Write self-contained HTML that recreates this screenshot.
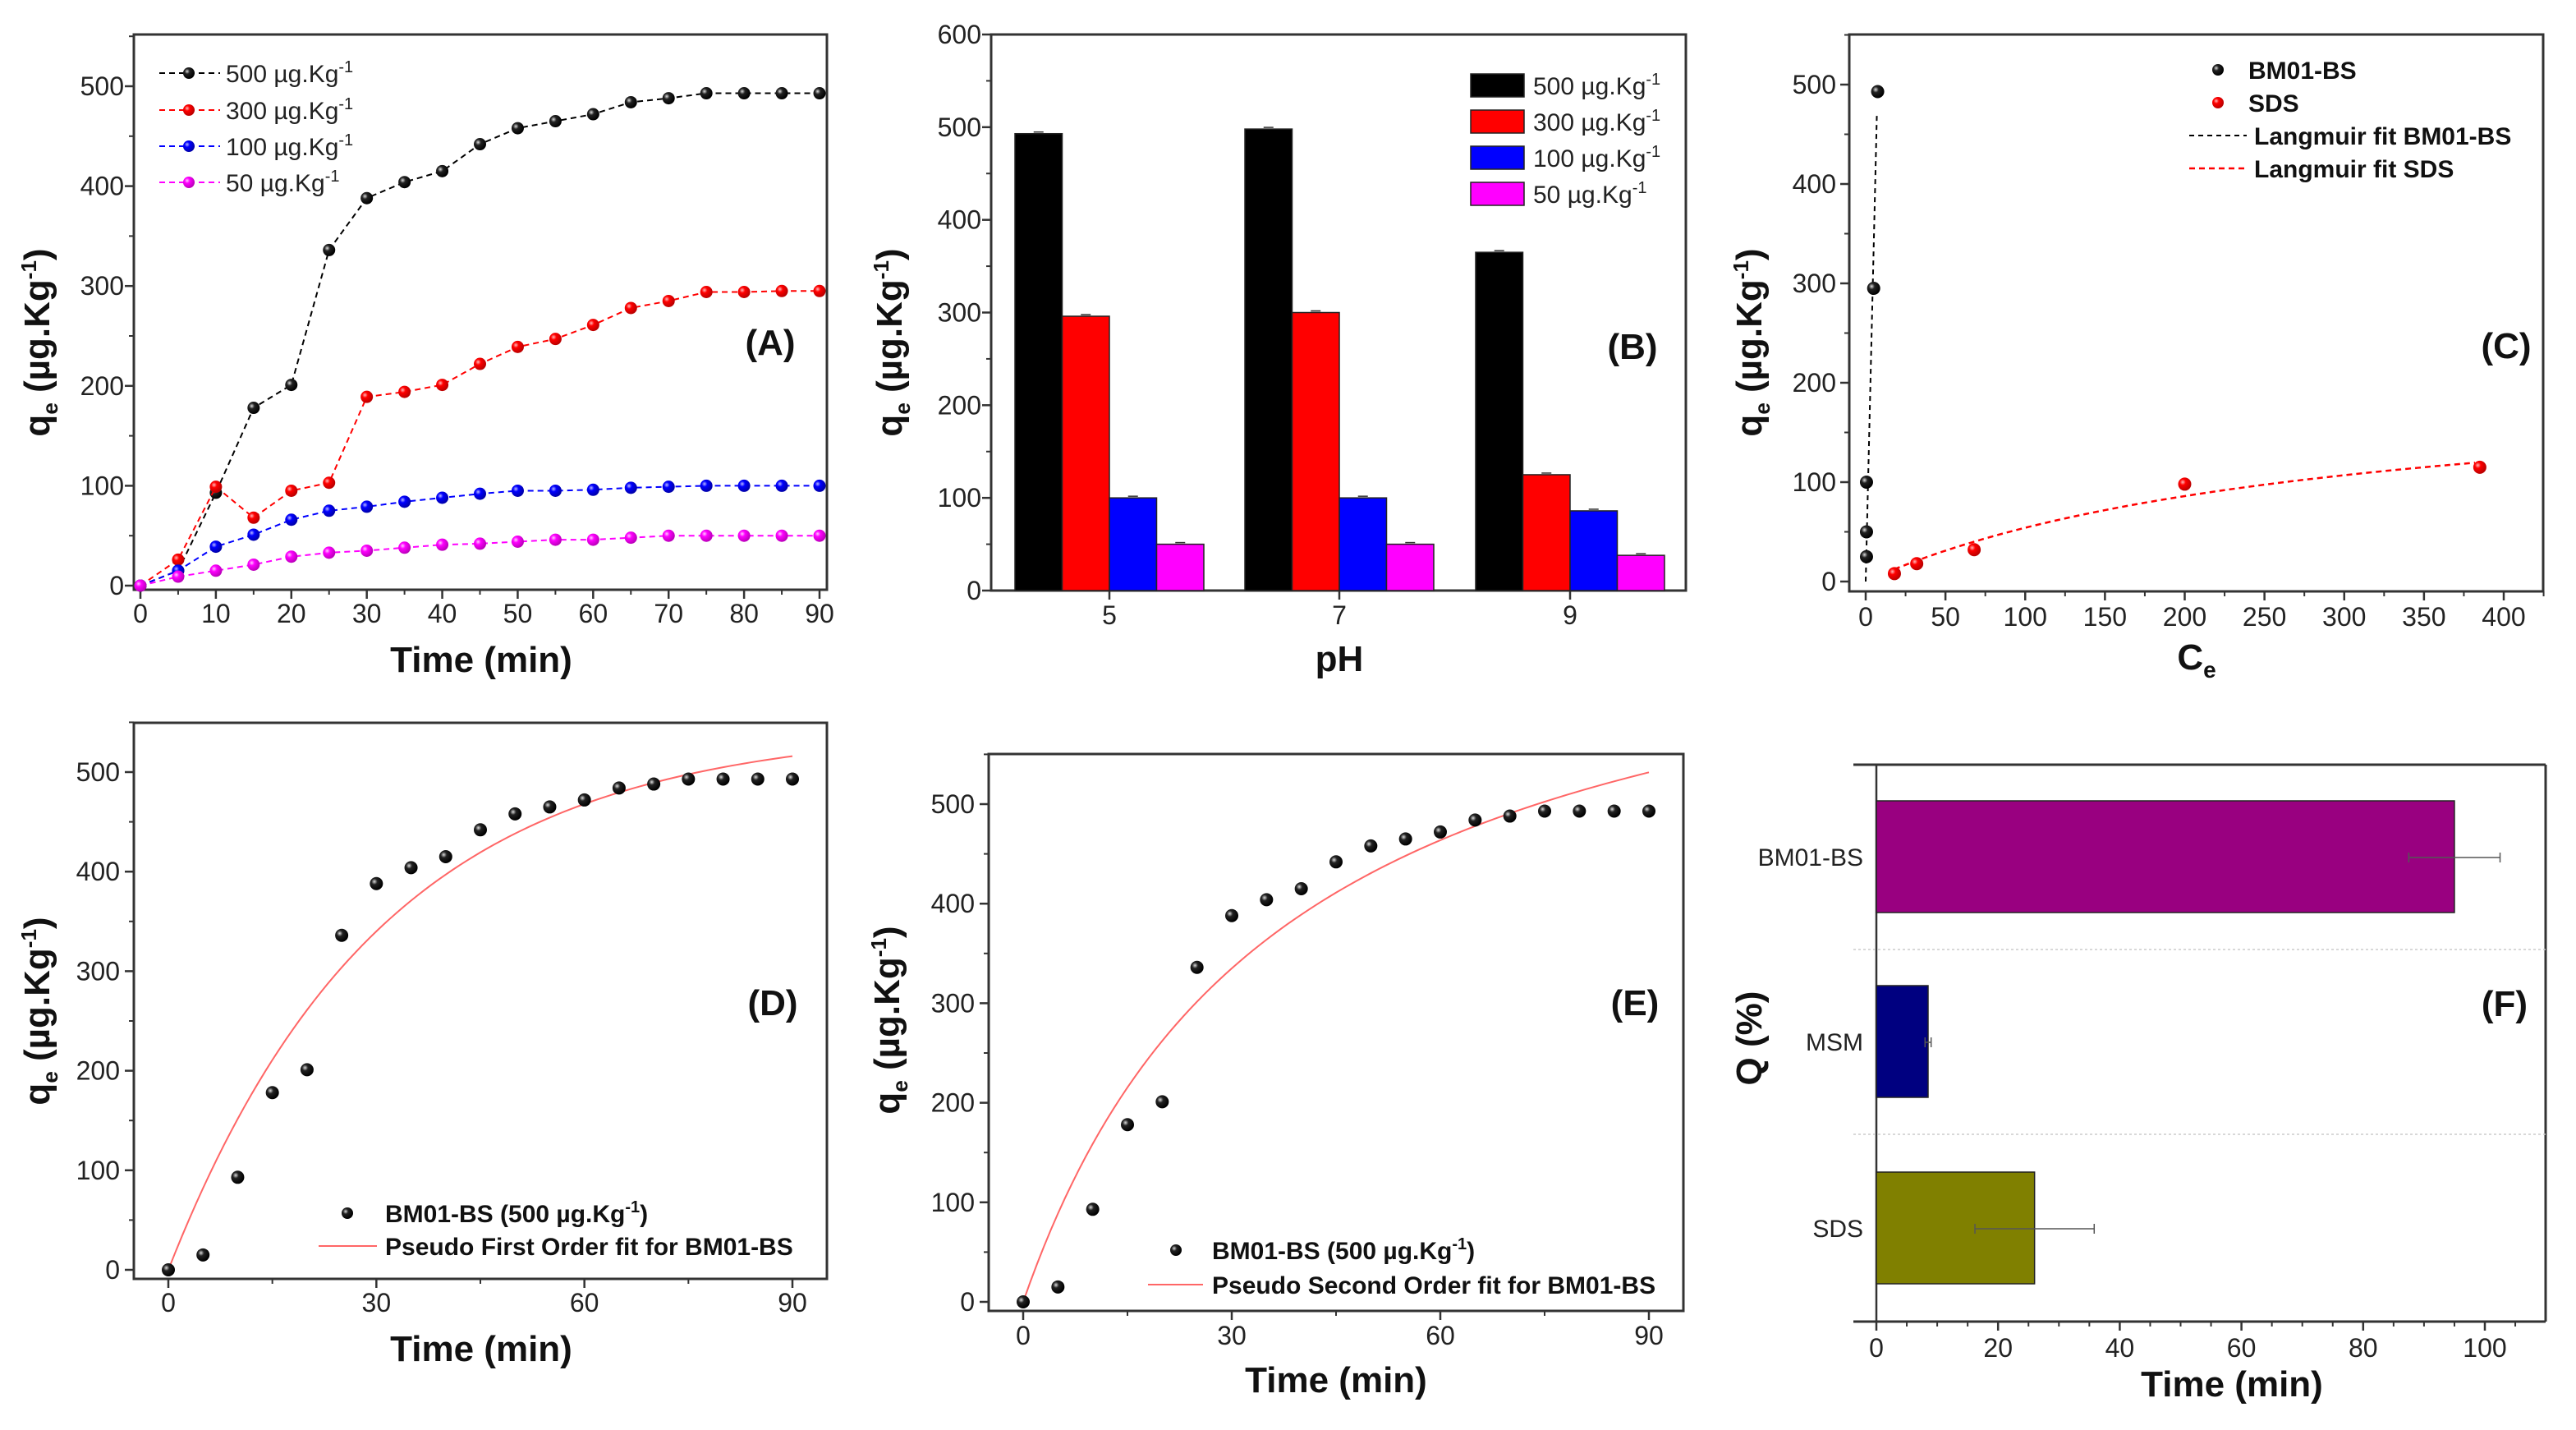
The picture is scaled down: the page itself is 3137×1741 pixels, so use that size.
<!DOCTYPE html>
<html><head><meta charset="utf-8"><style>
html,body{margin:0;padding:0;background:#fff;}
svg{display:block;font-family:"Liberation Sans",Arial,sans-serif;}
</style></head><body>
<svg id="fig" width="3137" height="1741" viewBox="0 0 3137 1741" xmlns="http://www.w3.org/2000/svg">
<defs>
<radialGradient id="gBlack" cx="35%" cy="35%" r="65%"><stop offset="0" stop-color="#ddd"/><stop offset="0.35" stop-color="#222"/><stop offset="1" stop-color="#000"/></radialGradient>
<radialGradient id="gRed" cx="35%" cy="35%" r="65%"><stop offset="0" stop-color="#fbb"/><stop offset="0.35" stop-color="#f00"/><stop offset="1" stop-color="#b00"/></radialGradient>
<radialGradient id="gBlue" cx="35%" cy="35%" r="65%"><stop offset="0" stop-color="#bbf"/><stop offset="0.35" stop-color="#00f"/><stop offset="1" stop-color="#00a"/></radialGradient>
<radialGradient id="gMag" cx="35%" cy="35%" r="65%"><stop offset="0" stop-color="#fcf"/><stop offset="0.35" stop-color="#f0f"/><stop offset="1" stop-color="#b0b"/></radialGradient>
</defs>
</svg>
<script>
// ---------- DATA ----------
const timesA = [0,5,10,15,20,25,30,35,40,45,50,55,60,65,70,75,80,85,90];
const qA500 = [0,15,93,178,201,336,388,404,415,442,458,465,472,484,488,493,493,493,493];
const qA300 = [0,26,99,68,95,103,189,194,201,222,239,247,261,278,285,294,294,295,295];
const qA100 = [0,15,39,51,66,75,79,84,88,92,95,95,96,98,99,100,100,100,100];
const qA50 = [0,9,15,21,29,33,35,38,41,42,44,46,46,48,50,50,50,50,50];
const seriesLabelsA = ["500","300","100","50"];

const phCats = ["5","7","9"];
const phB500 = [493,498,365];
const phB300 = [296,300,125];
const phB100 = [100,100,86];
const phB50 = [50,50,38];

const ceBM = [0.5,0.5,0.5,5,7.5];
const qeBM = [25,50,100,295,493];
const ceSDS = [18,32,68,200,385];
const qeSDS = [8,18,32,98,115];
const fitBMce = [0,7];
const fitBMq = [0,470];
const langQm = 209.3, langK = 0.003485;

const pfoQe = 545, pfoK = 0.0326;
const psoA = 0.04973, psoB = 0.0013275;

const fCats = ["BM01-BS","MSM","SDS"];
const fVals = [95,8.5,26];
const fErr = [7.5,0.5,9.8];
const fColors = ["#990080","#000080","#808000"];

// ---------- HELPERS ----------
const NS='http://www.w3.org/2000/svg';
const svg=document.getElementById('fig');
function el(tag, attrs, parent){const e=document.createElementNS(NS,tag);for(const k in attrs)e.setAttribute(k,attrs[k]);(parent||svg).appendChild(e);return e;}
function lin(d0,d1,r0,r1){return v=>r0+(v-d0)*(r1-r0)/(d1-d0);}
function frame(g,L,T,R,B){
  const r=el('rect',{x:L,y:T,width:R-L,height:B-T,fill:'none',stroke:'#333','stroke-width':3},g);
  
  
}
function xTicks(g,sx,vals,minor,B,labY,fmt){
  vals.forEach(v=>{
    el('line',{x1:sx(v),x2:sx(v),y1:B,y2:B+11,stroke:'#333','stroke-width':2.5},g);
    const t=el('text',{x:sx(v),y:labY,'font-size':32,'text-anchor':'middle',fill:'#222'},g);
    t.textContent=fmt?fmt(v):v;
    
    
  });
  (minor||[]).forEach(v=>el('line',{x1:sx(v),x2:sx(v),y1:B,y2:B+6,stroke:'#333','stroke-width':2},g));
}
function yTicks(g,sy,vals,minor,L,labX){
  vals.forEach(v=>{
    el('line',{x1:L-11,x2:L,y1:sy(v),y2:sy(v),stroke:'#333','stroke-width':2.5},g);
    const t=el('text',{x:labX,y:sy(v)+11,'font-size':32,'text-anchor':'end',fill:'#222'},g);
    t.textContent=v;
    
    
  });
  (minor||[]).forEach(v=>el('line',{x1:L-6,x2:L,y1:sy(v),y2:sy(v),stroke:'#333','stroke-width':2},g));
}
function yTitle(g,cx,cy){
  const t=el('text',{x:cx,y:cy,'font-size':44,'font-weight':'bold','text-anchor':'middle',fill:'#111',transform:`rotate(-90 ${cx} ${cy})`},g);
  
  
  t.innerHTML='q<tspan font-size="26" dy="10">e</tspan><tspan dy="-10"> (µg.Kg</tspan><tspan font-size="26" dy="-16">-1</tspan><tspan dy="16">)</tspan>';
}
function xTitle(g,cx,y,txt){
  const t=el('text',{x:cx,y:y,'font-size':44,'font-weight':'bold','text-anchor':'middle',fill:'#111'},g);
  
  
  t.innerHTML=txt;
}
function panelLabel(g,x,y,txt){
  const t=el('text',{x:x,y:y,'font-size':44,'font-weight':'bold','text-anchor':'middle',fill:'#111'},g);
  
  
  t.textContent=txt;
}
function dot(g,x,y,grad,r){
  const c=el('circle',{cx:x,cy:y,r:r||8,fill:'url(#'+grad+')'},g);
  
  
  return c;
}
function range(a,b,s){const o=[];for(let v=a;v<=b+1e-9;v+=s)o.push(+v.toFixed(4));return o;}
const ug=(n)=>`${n} µg.Kg<tspan font-size="20" dy="-12">-1</tspan>`;

// ---------- PANEL A ----------
(function(){
  const g=el('g',{});  
  const sx=lin(0,90,171,998), sy=lin(0,500,713,105);
  frame(g,163,42,1007,718);
  xTicks(g,sx,range(0,90,10),range(5,85,10),718,758);
  yTicks(g,sy,range(0,500,100),range(50,550,100),163,151);
  const series=[qA500,qA300,qA100,qA50], cols=['#000','#f00','#00f','#f0f'], grads=['gBlack','gRed','gBlue','gMag'];
  series.forEach((s,i)=>{
    const p=el('polyline',{points:timesA.map((t,j)=>sx(t)+','+sy(s[j])).join(' '),fill:'none',stroke:cols[i],'stroke-width':2,'stroke-dasharray':'7,5'},g);
    
    
    timesA.forEach((t,j)=>dot(g,sx(t),sy(s[j]),grads[i],7.5));
  });
  const rows=[89,134,178,222];
  rows.forEach((y,i)=>{
    el('line',{x1:194,x2:268,y1:y,y2:y,stroke:cols[i],'stroke-width':2,'stroke-dasharray':'7,5'},g);
    dot(g,230,y,grads[i],7);
    const t=el('text',{x:275,y:y+11,'font-size':30,fill:'#222'},g);
    
    
    t.innerHTML=ug(seriesLabelsA[i]);
  });
  yTitle(g,60,417);
  xTitle(g,586,818,'Time (min)');
  panelLabel(g,938,432,'(A)');
})();

// ---------- PANEL B ----------
(function(){
  const g=el('g',{});  
  const catX=[1351,1631,1912];
  const sy=lin(0,600,719,42);
  frame(g,1207,42,2053,719);
  yTicks(g,sy,range(0,600,100),range(50,550,100),1207,1195);
  catX.forEach((x,i)=>{
    el('line',{x1:x,x2:x,y1:719,y2:730,stroke:'#333','stroke-width':2.5},g);
    const t=el('text',{x:x,y:760,'font-size':32,'text-anchor':'middle',fill:'#222'},g);
    t.textContent=phCats[i];
    
    
  });
  const series=[phB500,phB300,phB100,phB50], cols=['#000','#f00','#00f','#f0f'], bw=57.5;
  series.forEach((s,si)=>{
    s.forEach((v,ci)=>{
      const x=catX[ci]-115+si*bw;
      const r=el('rect',{x:x,y:sy(v),width:bw,height:sy(0)-sy(v),fill:cols[si],stroke:'#222','stroke-width':1.5},g);
      
      
      el('line',{x1:x+bw/2-6,x2:x+bw/2+6,y1:sy(v)-2,y2:sy(v)-2,stroke:'#333','stroke-width':1.5},g);
    });
  });
  const rows=[104,148,192,236];
  rows.forEach((y,i)=>{
    const r=el('rect',{x:1791,y:y-14,width:65,height:28,fill:cols[i],stroke:'#222','stroke-width':1.5},g);
    
    
    const t=el('text',{x:1867,y:y+11,'font-size':30,fill:'#222'},g);
    
    
    t.innerHTML=ug(seriesLabelsA[i]);
  });
  yTitle(g,1098,417);
  xTitle(g,1631,817,'pH');
  panelLabel(g,1988,437,'(B)');
})();

// ---------- PANEL C ----------
(function(){
  const g=el('g',{});  
  const sx=lin(0,400,2272,3049), sy=lin(0,500,708,103);
  frame(g,2252,42,3097,720);
  xTicks(g,sx,range(0,400,50),range(25,425,50),720,762);
  yTicks(g,sy,range(0,500,100),range(50,550,100),2252,2236);
  const bl=el('polyline',{points:fitBMce.map((c,i)=>sx(c)+','+sy(fitBMq[i])).join(' '),fill:'none',stroke:'#000','stroke-width':2,'stroke-dasharray':'6,5'},g);
  
  
  const cs=[]; for(let c=ceSDS[0];c<=ceSDS[ceSDS.length-1];c+=4)cs.push(c);
  const sl=el('polyline',{points:cs.map(c=>sx(c)+','+sy(langQm*langK*c/(1+langK*c))).join(' '),fill:'none',stroke:'#f00','stroke-width':2.5,'stroke-dasharray':'7,5'},g);
  
  
  ceBM.forEach((c,i)=>dot(g,sx(c),sy(qeBM[i]),'gBlack',8));
  ceSDS.forEach((c,i)=>dot(g,sx(c),sy(qeSDS[i]),'gRed',8));
  const leg=[['BM01-BS',85],['SDS',125],['Langmuir fit BM01-BS',165],['Langmuir fit SDS',205]];
  dot(g,2701,85,'gBlack',7); dot(g,2701,125,'gRed',7);
  el('line',{x1:2666,x2:2736,y1:165,y2:165,stroke:'#000','stroke-width':2,'stroke-dasharray':'6,5'},g);
  el('line',{x1:2666,x2:2736,y1:205,y2:205,stroke:'#f00','stroke-width':2.5,'stroke-dasharray':'7,5'},g);
  leg.forEach((l,i)=>{
    const t=el('text',{x:i<2?2738:2745,y:l[1]+11,'font-size':30,'font-weight':'bold',fill:'#111'},g);
    
    
    t.textContent=l[0];
  });
  yTitle(g,2145,417);
  xTitle(g,2675,815,'C<tspan font-size="28" dy="10">e</tspan>');
  panelLabel(g,3052,436,'(C)');
})();

// ---------- PANEL D ----------
(function(){
  const g=el('g',{});  
  const sx=lin(0,90,205,965), sy=lin(0,500,1546,940);
  frame(g,163,880,1007,1557);
  xTicks(g,sx,range(0,90,30),range(15,75,30),1557,1597);
  yTicks(g,sy,range(0,500,100),range(50,550,100),163,146);
  const ts=[]; for(let t=0;t<=90;t+=1)ts.push(t);
  const p=el('polyline',{points:ts.map(t=>sx(t)+','+sy(pfoQe*(1-Math.exp(-pfoK*t)))).join(' '),fill:'none',stroke:'#f66','stroke-width':2},g);
  
  
  timesA.forEach((t,i)=>dot(g,sx(t),sy(qA500[i]),'gBlack',8));
  dot(g,423,1477,'gBlack',7);
  el('line',{x1:388,x2:459,y1:1517,y2:1517,stroke:'#f66','stroke-width':2},g);
  const t1=el('text',{x:469,y:1488,'font-size':30,'font-weight':'bold',fill:'#111'},g);
   
  t1.innerHTML='BM01-BS (500 µg.Kg<tspan font-size="20" dy="-12">-1</tspan><tspan dy="12">)</tspan>';
  const t2=el('text',{x:469,y:1528,'font-size':30,'font-weight':'bold',fill:'#111'},g);
   
  t2.textContent='Pseudo First Order fit for BM01-BS';
  yTitle(g,60,1231);
  xTitle(g,586,1657,'Time (min)');
  panelLabel(g,941,1236,'(D)');
})();

// ---------- PANEL E ----------
(function(){
  const g=el('g',{});  
  const sx=lin(0,90,1246,2008), sy=lin(0,500,1585,979);
  frame(g,1204,918,2050,1596);
  xTicks(g,sx,range(0,90,30),range(15,75,30),1596,1637);
  yTicks(g,sy,range(0,500,100),range(50,550,100),1204,1187);
  const ts=[]; for(let t=0;t<=90;t+=1)ts.push(t);
  const p=el('polyline',{points:ts.map(t=>sx(t)+','+sy(t/(psoA+psoB*t))).join(' '),fill:'none',stroke:'#f66','stroke-width':2},g);
  
  
  timesA.forEach((t,i)=>dot(g,sx(t),sy(qA500[i]),'gBlack',8));
  dot(g,1432,1522,'gBlack',7);
  el('line',{x1:1398,x2:1465,y1:1564,y2:1564,stroke:'#f66','stroke-width':2},g);
  const t1=el('text',{x:1476,y:1533,'font-size':30,'font-weight':'bold',fill:'#111'},g);
   
  t1.innerHTML='BM01-BS (500 µg.Kg<tspan font-size="20" dy="-12">-1</tspan><tspan dy="12">)</tspan>';
  const t2=el('text',{x:1476,y:1575,'font-size':30,'font-weight':'bold',fill:'#111'},g);
   
  t2.textContent='Pseudo Second Order fit for BM01-BS';
  yTitle(g,1095,1242);
  xTitle(g,1627,1695,'Time (min)');
  panelLabel(g,1991,1236,'(E)');
})();

// ---------- PANEL F ----------
(function(){
  const g=el('g',{});  
  const sx=lin(0,100,2285,3026);
  const catY=[1043,1268,1495], bh=136;
  el('line',{x1:2257,x2:3100,y1:931,y2:931,stroke:'#333','stroke-width':3},g);
  el('line',{x1:2257,x2:3100,y1:1609,y2:1609,stroke:'#333','stroke-width':3},g);
  el('line',{x1:2285,x2:2285,y1:931,y2:1609,stroke:'#333','stroke-width':2.5},g);
  el('line',{x1:3100,x2:3100,y1:931,y2:1609,stroke:'#333','stroke-width':3},g);
  [1156,1381].forEach(y=>{
    const l=el('line',{x1:2257,x2:3100,y1:y,y2:y,stroke:'#ccc','stroke-width':1.5,'stroke-dasharray':'3,3'},g);
     
  });
  xTicks(g,sx,range(0,100,20),range(5,105,5).filter(v=>v%20!==0),1609,1652);
  fVals.forEach((v,i)=>{
    const r=el('rect',{x:sx(0),y:catY[i]-bh/2,width:sx(v)-sx(0),height:bh,fill:fColors[i],stroke:'#222','stroke-width':1.5},g);
    
    
    const y=catY[i]+1;
    el('line',{x1:sx(v-fErr[i]),x2:sx(v+fErr[i]),y1:y,y2:y,stroke:'#555','stroke-width':1.5},g);
    el('line',{x1:sx(v-fErr[i]),x2:sx(v-fErr[i]),y1:y-6,y2:y+6,stroke:'#555','stroke-width':1.5},g);
    el('line',{x1:sx(v+fErr[i]),x2:sx(v+fErr[i]),y1:y-6,y2:y+6,stroke:'#555','stroke-width':1.5},g);
    const t=el('text',{x:2269,y:catY[i]+11,'font-size':30,'text-anchor':'end',fill:'#222'},g);
     
    t.textContent=fCats[i];
  });
  const yt=el('text',{x:2145,y:1264,'font-size':44,'font-weight':'bold','text-anchor':'middle',fill:'#111',transform:'rotate(-90 2145 1264)'},g);
   
  yt.textContent='Q (%)';
  xTitle(g,2718,1700,'Time (min)');
  panelLabel(g,3050,1237,'(F)');
})();
</script>
</body></html>
